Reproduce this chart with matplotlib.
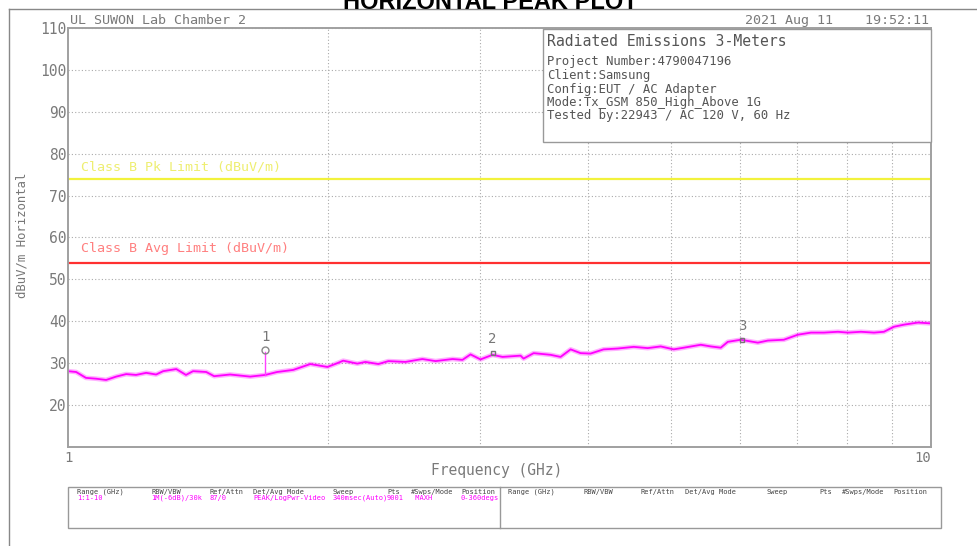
import matplotlib.pyplot as plt
from matplotlib.lines import Line2D
from matplotlib.patches import Rectangle

# Barrido de emisiones radiadas (polarizacion horizontal), 1-10 GHz
freq_ghz = [1.000, 1.022, 1.049, 1.078, 1.107, 1.137, 1.168, 1.199, 1.232, 1.265,
            1.289, 1.335, 1.370, 1.396, 1.446, 1.477, 1.541, 1.626, 1.693, 1.747,
            1.824, 1.909, 1.998, 2.051, 2.084, 2.164, 2.211, 2.289, 2.351, 2.460,
            2.574, 2.666, 2.790, 2.865, 2.927, 3.006, 3.104, 3.188, 3.345, 3.372,
            3.464, 3.624, 3.722, 3.823, 3.926, 4.032, 4.174, 4.335, 4.524, 4.696,
            4.862, 5.033, 5.171, 5.411, 5.557, 5.707, 5.815, 6.020, 6.300, 6.470,
            6.753, 7.010, 7.259, 7.515, 7.801, 8.012, 8.295, 8.588, 8.820, 9.059,
            9.305, 9.658, 10.000]
level_dbuv = [28.1, 27.9, 26.5, 26.3, 26.0, 26.8, 27.4, 27.2, 27.7, 27.3,
              28.1, 28.6, 27.2, 28.1, 27.9, 26.9, 27.3, 26.8, 27.2, 27.9,
              28.4, 29.8, 29.1, 30.0, 30.6, 29.9, 30.3, 29.8, 30.5, 30.3,
              31.0, 30.5, 31.0, 30.8, 32.1, 30.9, 32.0, 31.5, 31.8, 31.1,
              32.4, 32.0, 31.5, 33.3, 32.4, 32.3, 33.3, 33.5, 33.9, 33.6,
              34.0, 33.3, 33.7, 34.4, 34.0, 33.7, 35.1, 35.6, 34.9, 35.4,
              35.6, 36.8, 37.3, 37.3, 37.5, 37.3, 37.5, 37.3, 37.5, 38.7,
              39.2, 39.7, 39.5]

# Marcadores
marker_ids = ["1", "2", "3"]
marker_freq = [1.693, 3.104, 6.040]
marker_level = [33.1, 32.4, 35.6]

# Limites Clase B
pk_limit = 74
avg_limit = 54

info_title = "Radiated Emissions 3-Meters"
info_lines = ["Project Number:4790047196", "Client:Samsung", "Config:EUT / AC Adapter",
              "Mode:Tx_GSM 850_High_Above 1G", "Tested by:22943 / AC 120 V, 60 Hz"]

table_headers = ["Range (GHz)", "RBW/VBW", "Ref/Attn", "Det/Avg Mode", "Sweep",
                 "Pts", "#Swps/Mode", "Position"]
table_values = ["1:1-10", "1M(-6dB)/30k", "87/0", "PEAK/LogPwr-Video",
                "340msec(Auto)", "9001", " MAXH", "0-360degs"]

W, H = 978, 546
mono = "DejaVu Sans Mono"
grey = "#7a7a7a"

fig = plt.figure(figsize=(W / 100, H / 100), dpi=100)


def fx(px):
    return px / W


def fy(py):
    return 1 - py / H


# marco exterior
fig.add_artist(Line2D([fx(9), fx(9)], [fy(9), 0], color="#888888", lw=1.0))
fig.add_artist(Line2D([fx(9), 1], [fy(9), fy(9)], color="#888888", lw=1.0))

fig.text(fx(490), fy(9), "HORIZONTAL PEAK PLOT", ha="center", va="baseline",
         fontsize=17, fontweight="bold", family="Liberation Sans")

ax = fig.add_axes([fx(68), fy(447), (931 - 68) / W, (447 - 28) / H])
ax.set_xscale("log")
ax.set_xlim(1, 10)
ax.set_ylim(10, 110)

ax.set_yticks(range(20, 111, 10))
ax.set_yticklabels([str(v) for v in range(20, 111, 10)], family=mono, fontsize=10.5, color=grey)
ax.tick_params(axis="y", length=0, pad=1)
ax.set_xticks([1, 10])
ax.set_xticklabels([])
ax.set_xticks([2, 3, 4, 5, 6, 7, 8, 9], minor=True)
ax.xaxis.set_minor_formatter(plt.NullFormatter())
ax.tick_params(axis="x", which="both", length=0)

ax.grid(True, axis="y", color="#aaaaaa", lw=0.8, ls=(0, (1, 2)))
ax.grid(True, axis="x", which="minor", color="#aaaaaa", lw=0.8, ls=(0, (1, 2)))
for s in ax.spines.values():
    s.set_color("#a0a0a0")
    s.set_linewidth(1.4)

ax.text(1.0, 7.4, "1", ha="center", va="center", family=mono, fontsize=10, color=grey)
ax.text(10.0, 7.4, "10", ha="right", va="center", family=mono, fontsize=10, color=grey)

# lineas limite
ax.axhline(pk_limit, color="#f2f23c", lw=1.6)
ax.axhline(avg_limit, color="#ff3030", lw=1.6)
ax.text(1.035, pk_limit + 2.9, "Class B Pk Limit (dBuV/m)", family=mono, fontsize=9.6,
        color="#eeee70", va="center")
ax.text(1.035, avg_limit + 3.4, "Class B Avg Limit (dBuV/m)", family=mono, fontsize=9.6,
        color="#ff8080", va="center")

# traza
ax.plot(freq_ghz, level_dbuv, color="#ff00ff", lw=3.4, alpha=0.3)
ax.plot(freq_ghz, level_dbuv, color="#ff00ff", lw=1.3)

# marcadores
for mid, f, lv in zip(marker_ids, marker_freq, marker_level):
    if mid == "1":
        ax.plot([f, f], [27.2, lv - 0.4], color="#ff40ff", lw=1.0)
        ax.plot(f, lv, "o", ms=5, mfc="none", mec="#888888", mew=1.0)
    else:
        ax.plot(f, lv, "s", ms=3.5, mfc="none", mec="#777777", mew=1.0)
    ax.text(f, lv + 1.6, mid, ha="center", va="bottom", family=mono, fontsize=10, color="#777777")

# cabecera
fig.text(fx(70), fy(24), "UL SUWON Lab Chamber 2", family=mono, fontsize=9.6, color=grey,
         va="baseline")
fig.text(fx(929), fy(24), "2021 Aug 11    19:52:11", family=mono, fontsize=9.6, color=grey,
         va="baseline", ha="right")

# cuadro de informacion
fig.add_artist(Rectangle((fx(543), fy(142)), (931 - 543) / W, (142 - 29) / H,
                         transform=fig.transFigure, fill=True, fc="white", ec="#999999", lw=1.0))
fig.text(fx(547), fy(41), info_title, family=mono, fontsize=10.6, color="#555555", va="center")
for i, line in enumerate(info_lines):
    fig.text(fx(547), fy(62 + i * 13.5), line, family=mono, fontsize=8.8, color="#555555",
             va="center")

fig.text(fx(22), fy(235), "dBuV/m Horizontal", rotation=90, family=mono, fontsize=8.8,
         color="#777777", ha="center", va="center")
fig.text(fx(497), fy(471), "Frequency (GHz)", family=mono, fontsize=10.5, color=grey,
         ha="center", va="center")

# tabla de parametros del barrido
fig.add_artist(Rectangle((fx(68), fy(528)), (941 - 68) / W, (528 - 487) / H,
                         transform=fig.transFigure, fill=False, ec="#999999", lw=1.0))
fig.add_artist(Line2D([fx(500), fx(500)], [fy(528), fy(487)], color="#999999", lw=1.0))
left_cols = [77, 151, 210, 253, 333, 387, 411, 461]
right_cols = [508, 583, 641, 685, 767, 819, 842, 893]
for x, h, v in zip(left_cols, table_headers, table_values):
    fig.text(fx(x), fy(492), h, family=mono, fontsize=5, color="#444444", va="center")
    fig.text(fx(x), fy(498), v, family=mono, fontsize=5, color="#ff00ff", va="center")
for x, h in zip(right_cols, table_headers):
    fig.text(fx(x), fy(492), h, family=mono, fontsize=5, color="#444444", va="center")

fig.savefig("out.png", dpi=100)
